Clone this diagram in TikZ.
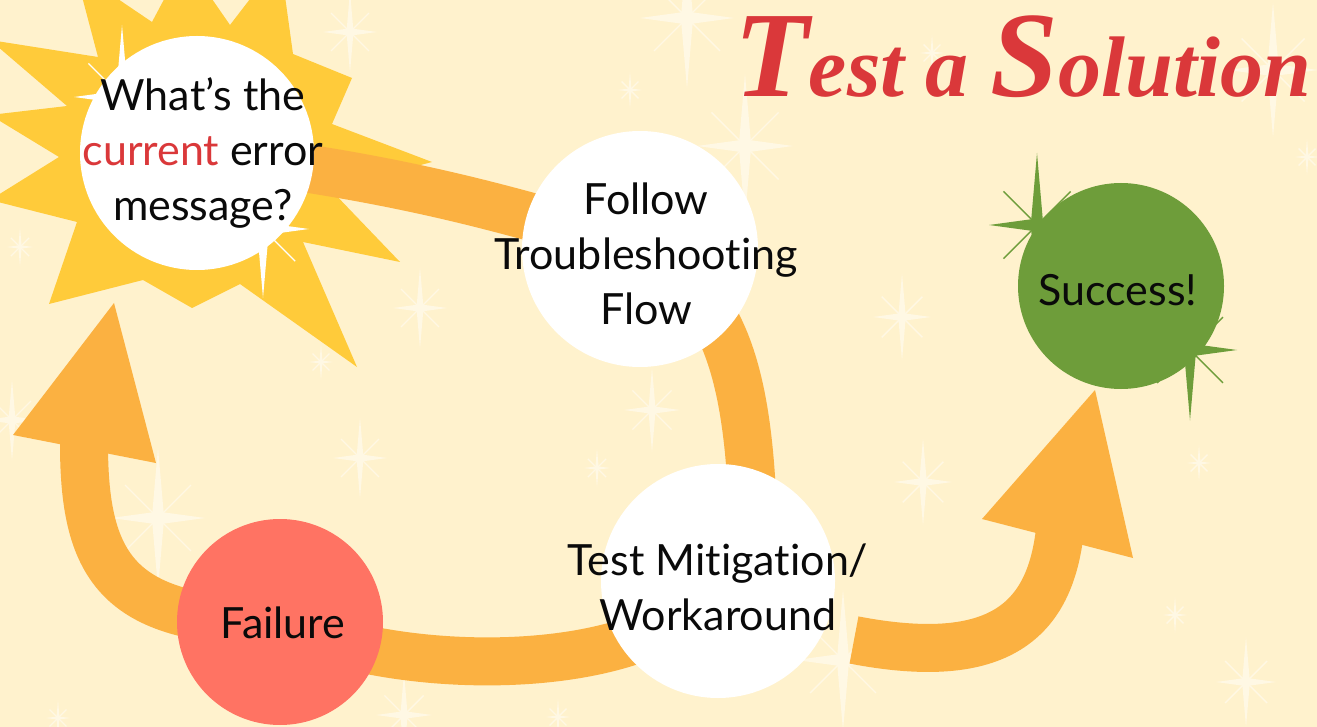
\documentclass[tikz,border=0pt]{standalone}
\usepackage{fontspec}
\setmainfont{Lato}[Ligatures=NoCommon]
\newfontfamily\titlefont{Liberation Serif}
\usetikzlibrary{calc}
\definecolor{paper}{RGB}{255,242,205}
\definecolor{spark}{RGB}{255,248,228}
\definecolor{burst}{RGB}{255,203,58}
\definecolor{flow}{RGB}{251,177,65}
\definecolor{alert}{RGB}{218,56,58}
\definecolor{failred}{RGB}{255,115,99}
\definecolor{wingreen}{RGB}{110,157,58}
\definecolor{ink}{RGB}{10,10,10}
\pgfdeclarelayer{back}
\pgfdeclarelayer{mid}
\pgfsetlayers{back,mid,main}

\tikzset{
  twinkle/.pic={
    \fill (0,-1.5) -- (0.12,-0.12) -- (1,0) -- (0.12,0.12) -- (0,1.5) -- (-0.12,0.12) -- (-1,0) -- (-0.12,-0.12) -- cycle;
    \draw[line width=1.4pt] (-0.7,-0.7) -- (0.7,0.7) (-0.7,0.7) -- (0.7,-0.7);
  },
  disc/.style={circle, draw=none, inner sep=0pt},
  caption/.style={font=\fontsize{43}{55}\selectfont, align=center, text=ink},
  band/.style={draw=flow, line width=48pt},
}

\begin{document}
\begin{tikzpicture}[x=1pt,y=-1pt]
\useasboundingbox (0,0) rectangle (1317,727);

% stations
\node[disc, fill=white, minimum size=234pt] (q) at (197,153) {};
\node[disc, fill=white, minimum size=236pt] (follow) at (640,249) {};
\node[disc, fill=white, minimum size=234pt] (test) at (718,581) {};
\node[disc, fill=failred, minimum size=206pt] (bad) at (280,622) {};
\node[disc, fill=wingreen, minimum size=206pt] (good) at (1121,286) {};

\node[caption] at (203,153) {What’s the\\{\color{alert}current} error\\message?};
\node[caption] at (646,254) {Follow\\Troubleshooting\\Flow};
\node[caption] at (718,587) {Test Mitigation/\\Workaround};
\node[caption] at (283,623) {Failure};
\node[caption] at (1118,290) {Success!};

\node[anchor=base, text=alert, font=\titlefont\bfseries\itshape\fontsize{86}{90}\selectfont] (title) at (1023,97)
  {{\fontsize{122}{122}\selectfont T}est a {\fontsize{122}{122}\selectfont S}olution};

\coordinate (backtip) at (84,444);
\coordinate (wstart) at (854,640);
\coordinate (wtip) at (1060,530);

\begin{pgfonlayer}{back}
\fill[paper] (0,0) rectangle (1317,727);
\foreach \x/\y/\s in {350/32/27, 20/247/13, 420/308/27, 321/362/12, 360/458/27, 12/420/27,
    158/518/47, 58/718/12, 687/18/47, 630/90/12, 745/146/48, 902/317/29, 652/410/28,
    597/468/13, 923/482/29, 1199/463/12, 1175/615/12, 1246/682/30, 843/660/47,
    1273/70/45, 1307/157/12, 932/53/12, 404/715/28, 558/717/12}
  \pic[scale=\s, color=spark] at (\x,\y) {twinkle};
% burst behind the question
\fill[burst] (75,-30) -- (152,22) -- (185,-40) -- (230,25) -- (280,-40) -- (293,54)
  -- (352,78) -- (332,124) -- (432,162) -- (330,189) -- (400,262) -- (303,242)
  -- (357,367) -- (240,284) -- (192,308) -- (143,280) -- (49,304) -- (77,222)
  -- (-10,200) -- (59,157) -- (-10,115) -- (67,106) -- (-10,40) -- (98,57) -- cycle;
\pic[scale=48, color=white] at (122,97) {twinkle};
\pic[scale=46, color=white] at (263,229) {twinkle};
\pic[scale=48, color=wingreen] at (1037,225) {twinkle};
\pic[scale=47, color=wingreen] at (1190,350) {twinkle};
\end{pgfonlayer}

\begin{pgfonlayer}{mid}
\draw[band] (q.center) to[bend left=5] (follow.center);
\draw[band] (follow.center) .. controls (730,295) and (754,380) .. ([xshift=36pt]test.center);
\draw[band] (test.center) .. controls (660,680) and (400,680) .. (bad.center);
\draw[band] (bad.center) .. controls (120,622) and (84,570) .. (backtip);
\fill[flow] (13,435) -- (114,303) -- (156,463) -- cycle;
\draw[band] (wstart) .. controls (1000,668) and (1050,620) .. (wtip);
\fill[flow] (982,519) -- (1095,390) -- (1133,558) -- cycle;
\end{pgfonlayer}
\end{tikzpicture}
\end{document}
